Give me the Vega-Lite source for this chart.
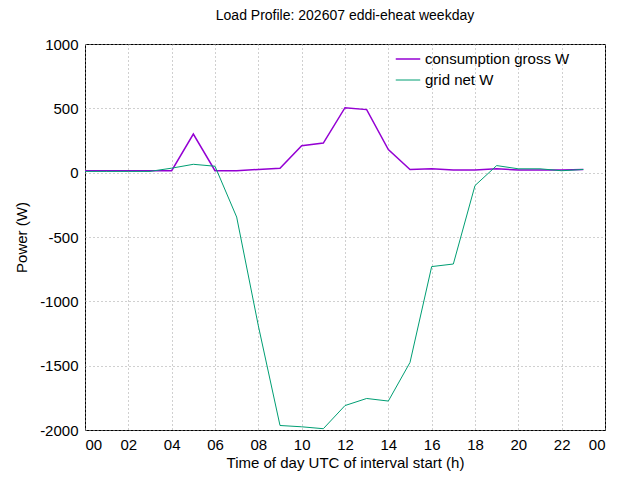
{
  "$schema": "https://vega.github.io/schema/vega-lite/v6.json",
  "width": 520,
  "height": 386,
  "autosize": "none",
  "padding": {"left": 85, "top": 44, "right": 35, "bottom": 50},
  "background": "white",
  "title": {"text": "Load Profile: 202607 eddi-eheat weekday", "font": "Liberation Sans", "fontSize": 14, "fontWeight": "normal", "offset": 14},
  "config": {
    "view": {"stroke": "black", "strokeWidth": 1},
    "axis": {"labelFont": "Liberation Sans", "titleFont": "Liberation Sans", "labelFontSize": 15, "titleFontSize": 15, "titleFontWeight": "normal", "labelColor": "black", "titleColor": "black", "domain": false, "ticks": false, "labelPadding": 7, "gridColor": "#a0a0a0", "gridDash": [1, 3], "gridOpacity": 1}
  },
  "data": {"values": [
    {"h":0,"s":"consumption gross W","w":15},{"h":1,"s":"consumption gross W","w":15},{"h":2,"s":"consumption gross W","w":15},{"h":3,"s":"consumption gross W","w":15},{"h":4,"s":"consumption gross W","w":15},{"h":5,"s":"consumption gross W","w":300},{"h":6,"s":"consumption gross W","w":15},{"h":7,"s":"consumption gross W","w":15},{"h":8,"s":"consumption gross W","w":25},{"h":9,"s":"consumption gross W","w":35},{"h":10,"s":"consumption gross W","w":210},{"h":11,"s":"consumption gross W","w":230},{"h":12,"s":"consumption gross W","w":505},{"h":13,"s":"consumption gross W","w":490},{"h":14,"s":"consumption gross W","w":180},{"h":15,"s":"consumption gross W","w":25},{"h":16,"s":"consumption gross W","w":30},{"h":17,"s":"consumption gross W","w":20},{"h":18,"s":"consumption gross W","w":20},{"h":19,"s":"consumption gross W","w":30},{"h":20,"s":"consumption gross W","w":20},{"h":21,"s":"consumption gross W","w":20},{"h":22,"s":"consumption gross W","w":20},{"h":23,"s":"consumption gross W","w":25},
    {"h":0,"s":"grid net W","w":10},{"h":1,"s":"grid net W","w":10},{"h":2,"s":"grid net W","w":10},{"h":3,"s":"grid net W","w":10},{"h":4,"s":"grid net W","w":35},{"h":5,"s":"grid net W","w":65},{"h":6,"s":"grid net W","w":50},{"h":7,"s":"grid net W","w":-345},{"h":8,"s":"grid net W","w":-1190},{"h":9,"s":"grid net W","w":-1965},{"h":10,"s":"grid net W","w":-1975},{"h":11,"s":"grid net W","w":-1990},{"h":12,"s":"grid net W","w":-1810},{"h":13,"s":"grid net W","w":-1755},{"h":14,"s":"grid net W","w":-1775},{"h":15,"s":"grid net W","w":-1475},{"h":16,"s":"grid net W","w":-730},{"h":17,"s":"grid net W","w":-710},{"h":18,"s":"grid net W","w":-100},{"h":19,"s":"grid net W","w":55},{"h":20,"s":"grid net W","w":30},{"h":21,"s":"grid net W","w":30},{"h":22,"s":"grid net W","w":15},{"h":23,"s":"grid net W","w":25}
  ]},
  "mark": {"type": "line", "clip": true},
  "encoding": {
    "x": {"field": "h", "type": "quantitative", "scale": {"domain": [0, 24], "nice": false}, "axis": {"values": [0,2,4,6,8,10,12,14,16,18,20,22,24], "labelExpr": "(datum.value % 24 < 10 ? '0' : '') + (datum.value % 24)", "title": "Time of day UTC of interval start (h)", "titlePadding": 3}},
    "y": {"field": "w", "type": "quantitative", "scale": {"domain": [-2000, 1000], "nice": false}, "axis": {"values": [-2000,-1500,-1000,-500,0,500,1000], "labelExpr": "replace(format(datum.value, 'd'), '−', '-')", "title": "Power (W)", "titlePadding": 10}},
    "color": {"field": "s", "type": "nominal", "scale": {"domain": ["consumption gross W", "grid net W"], "range": ["#9400d3", "#009e73"]}, "legend": {"title": null, "orient": "none", "legendX": 310, "legendY": 2, "symbolType": "stroke", "symbolSize": 600, "symbolStrokeWidth": 2, "labelFont": "Liberation Sans", "labelFontSize": 15, "rowPadding": 0}},
    "strokeWidth": {"field": "s", "type": "nominal", "scale": {"domain": ["consumption gross W", "grid net W"], "range": [1.5, 1]}, "legend": null}
  }
}
